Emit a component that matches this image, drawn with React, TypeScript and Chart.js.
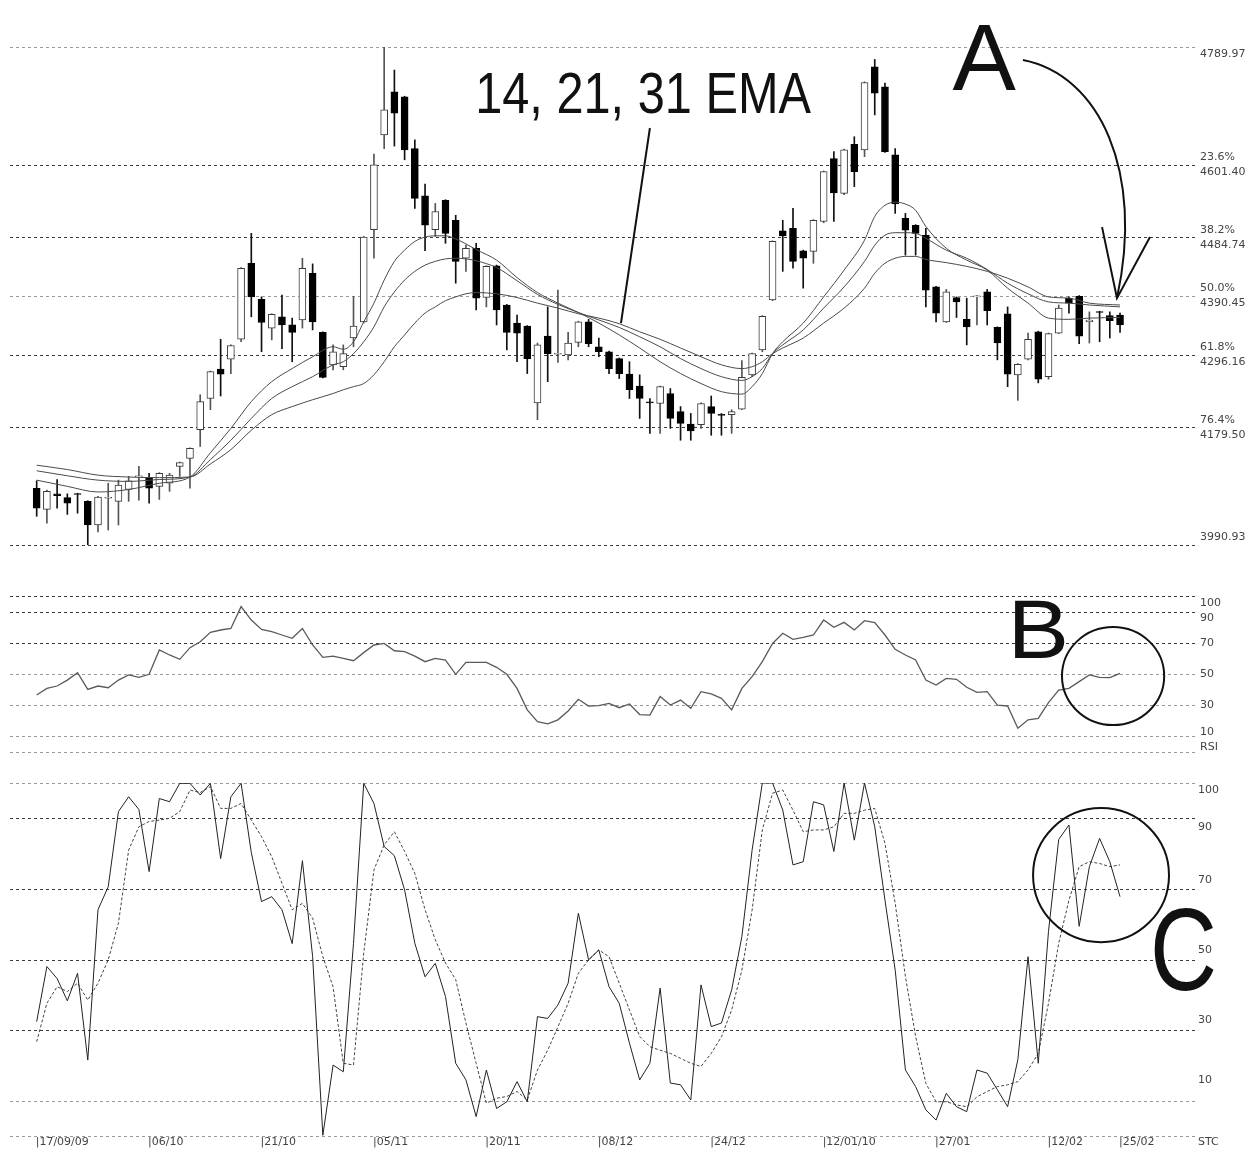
import React, { useEffect, useRef } from "react";
import { Chart, registerables } from "chart.js";

Chart.register(...registerables);

// ---------------- data ----------------
const dateLabels = ["17/09/09", "06/10", "21/10", "05/11", "20/11", "08/12", "24/12", "12/01/10", "27/01", "12/02", "25/02"];
const dateLabelBars = [0, 11, 22, 33, 44, 55, 66, 77, 88, 99, 106];

const opens = [
  4082, 4048, 4073, 4067, 4073, 4061, 4023, 4066, 4061, 4080,
  4100, 4099, 4085, 4090, 4117, 4130, 4176, 4226, 4273, 4289,
  4321, 4443, 4385, 4339, 4357, 4344, 4352, 4427, 4332, 4280,
  4277, 4323, 4349, 4497, 4649, 4718, 4710, 4627, 4551, 4497,
  4544, 4512, 4451, 4467, 4388, 4439, 4376, 4347, 4342, 4219,
  4326, 4297, 4296, 4316, 4349, 4309, 4301, 4290, 4265, 4246,
  4220, 4218, 4234, 4205, 4185, 4184, 4213, 4200, 4200, 4209,
  4264, 4304, 4384, 4495, 4499, 4463, 4462, 4510, 4611, 4555,
  4634, 4625, 4758, 4726, 4617, 4515, 4504, 4488, 4405, 4349,
  4388, 4353, 4389, 4397, 4340, 4362, 4264, 4289, 4333, 4261,
  4331, 4387, 4390, 4349, 4365, 4359, 4360,
];
const highs = [
  4094, 4079, 4096, 4073, 4074, 4062, 4069, 4090, 4095, 4101,
  4117, 4106, 4107, 4106, 4124, 4147, 4232, 4270, 4321, 4312,
  4436, 4491, 4389, 4362, 4392, 4355, 4451, 4442, 4333, 4312,
  4312, 4390, 4486, 4618, 4789.97, 4753, 4711, 4641, 4570, 4539,
  4545, 4520, 4472, 4475, 4439, 4440, 4377, 4360, 4343, 4315,
  4373, 4400, 4332, 4350, 4353, 4323, 4302, 4291, 4285, 4264,
  4226, 4246, 4242, 4213, 4202, 4219, 4230, 4202, 4208, 4287,
  4299, 4359, 4479, 4512, 4531, 4464, 4513, 4591, 4622, 4626,
  4646, 4734, 4770, 4732, 4627, 4523, 4505, 4499, 4406, 4401,
  4389, 4387, 4391, 4401, 4341, 4373, 4282, 4331, 4334, 4331,
  4376, 4389, 4391, 4365, 4366, 4365, 4363,
];
const lows = [
  4037, 4026, 4050, 4040, 4042, 3990.93, 4012, 4015, 4023, 4061,
  4063, 4058, 4064, 4077, 4101, 4082, 4149, 4208, 4230, 4266,
  4317, 4357, 4301, 4320, 4306, 4285, 4339, 4336, 4259, 4272,
  4272, 4309, 4347, 4451, 4627, 4631, 4609, 4531, 4463, 4486,
  4475, 4411, 4430, 4368, 4373, 4344, 4304, 4285, 4266, 4192,
  4253, 4284, 4288, 4309, 4309, 4293, 4266, 4258, 4226, 4194,
  4170, 4170, 4178, 4159, 4159, 4178, 4167, 4167, 4170, 4208,
  4261, 4301, 4383, 4430, 4435, 4403, 4443, 4508, 4510, 4553,
  4566, 4614, 4681, 4621, 4523, 4456, 4456, 4373, 4349, 4348,
  4356, 4312, 4344, 4344, 4288, 4245, 4223, 4288, 4251, 4257,
  4330, 4363, 4314, 4315, 4317, 4323, 4332,
];
const closes = [
  4050, 4077, 4070, 4058, 4072, 4023, 4068, 4067, 4087, 4094,
  4102, 4082, 4106, 4103, 4123, 4146, 4221, 4269, 4265, 4311,
  4435, 4389, 4348, 4361, 4344, 4332, 4435, 4349, 4260, 4301,
  4298, 4342, 4485, 4601, 4689, 4684, 4625, 4547, 4504, 4526,
  4491, 4446, 4467, 4387, 4438, 4368, 4332, 4331, 4290, 4312,
  4298, 4298, 4315, 4349, 4314, 4301, 4274, 4266, 4240, 4226,
  4219, 4245, 4194, 4186, 4174, 4218, 4202, 4199, 4205, 4260,
  4298, 4358, 4478, 4487, 4446, 4451, 4512, 4590, 4556, 4625,
  4590, 4733, 4716, 4622, 4538, 4496, 4491, 4400, 4363, 4397,
  4381, 4341, 4390, 4367, 4315, 4265, 4281, 4321, 4257, 4330,
  4371, 4379, 4326, 4352, 4364, 4351, 4344,
];

const emaBars = [
  0, 3, 6, 9, 12, 15, 17, 19, 21, 23, 25, 27, 29, 30, 31, 32, 33, 34, 35, 36,
  37, 38, 39, 40, 41, 42, 43, 45, 47, 49, 51, 53, 55, 57, 59, 61, 63, 65, 67, 69,
  70, 71, 72, 73, 75, 77, 79, 81, 82, 83, 84, 85, 86, 87, 89, 91, 93, 95, 97, 99,
  101, 103, 106,
];
const ema14 = [
  4095, 4085, 4076, 4080, 4090, 4100, 4139, 4178, 4221, 4253, 4274, 4293, 4309, 4305, 4317, 4349, 4379, 4416, 4446, 4464,
  4478, 4485, 4487, 4487, 4482, 4474, 4465, 4448, 4420, 4396, 4379, 4364, 4347, 4328, 4307, 4285, 4266, 4250, 4237, 4233,
  4245, 4266, 4298, 4317, 4347, 4389, 4432, 4480, 4518, 4536, 4541, 4538, 4528, 4502, 4467, 4448, 4432, 4403, 4379, 4355,
  4353, 4355, 4356,
];
const ema21 = [
  4110, 4102, 4095, 4093, 4096, 4100, 4128, 4159, 4194, 4226, 4245, 4261, 4280, 4285, 4298, 4317, 4341, 4373, 4397, 4416,
  4430, 4440, 4446, 4450, 4451, 4450, 4447, 4436, 4415, 4393, 4377, 4364, 4352, 4340, 4325, 4309, 4290, 4274, 4261, 4255,
  4261, 4274, 4298, 4312, 4336, 4371, 4405, 4446, 4472, 4488, 4492, 4492, 4491, 4483, 4464, 4451, 4433, 4411, 4394, 4381,
  4379, 4376, 4373,
];
const ema31 = [
  4119, 4112, 4103, 4100, 4099, 4100, 4121, 4144, 4175, 4200, 4213, 4224, 4234, 4240, 4245, 4250, 4264, 4285, 4309, 4328,
  4347, 4363, 4373, 4383, 4389, 4394, 4396, 4394, 4388, 4379, 4371, 4362, 4355, 4346, 4333, 4321, 4307, 4293, 4280, 4274,
  4277, 4285, 4298, 4307, 4323, 4347, 4371, 4403, 4427, 4443, 4451, 4454, 4454, 4449, 4444, 4438, 4430, 4419, 4405, 4389,
  4387, 4379, 4376,
];

const rsiValues = [
  36.5, 40.8, 42.3, 46.1, 50.8, 40.1, 42.3, 41.2, 46.1, 49.4,
  47.9, 49.8, 65.4, 62.2, 59.4, 66.9, 70.7, 76.7, 78.2, 79.2,
  93.2, 84.6, 78.6, 77.1, 75.0, 72.9, 79.2, 68.6, 60.7, 61.5,
  60.0, 58.5, 63.7, 68.6, 69.6, 64.9, 64.3, 61.5, 57.9, 60.0,
  58.9, 49.8, 57.5, 57.5, 57.5, 54.3, 49.8, 40.8, 27.0, 19.5,
  18.0, 20.6, 26.3, 33.8, 29.5, 29.7, 31.2, 28.4, 30.8, 24.0,
  23.7, 35.5, 30.1, 33.3, 28.0, 38.7, 37.2, 34.4, 27.0, 40.8,
  48.3, 57.9, 69.6, 76.1, 72.2, 73.5, 75.0, 84.6, 79.9, 83.1,
  78.2, 84.2, 82.9, 75.0, 65.8, 62.2, 59.0, 46.1, 42.9, 47.2,
  46.6, 41.5, 38.2, 38.7, 30.1, 29.5, 15.2, 20.6, 21.6, 31.6,
  39.7, 40.8, 45.1, 49.4, 47.9, 47.7, 50.4,
];

const stcK = [
  32.4, 48.0, 44.6, 38.3, 46.1, 21.5, 64.1, 70.6, 91.9, 96.1,
  92.5, 74.9, 95.6, 94.7, 99.9, 99.9, 96.6, 99.9, 78.6, 96.1,
  99.9, 80.3, 66.4, 67.8, 64.1, 54.5, 78.0, 50.8, 0.2, 20.1,
  18.2, 54.6, 99.9, 94.2, 82.0, 79.4, 69.7, 54.6, 45.1, 48.9,
  39.5, 20.6, 15.9, 5.5, 18.7, 7.8, 9.7, 15.4, 9.7, 33.8,
  33.3, 37.1, 43.3, 63.1, 49.9, 52.7, 42.3, 37.6, 26.3, 15.9,
  20.6, 41.9, 15.0, 14.5, 10.2, 42.8, 31.0, 32.0, 41.4, 56.5,
  81.0, 100, 100, 92.3, 76.8, 77.7, 94.7, 93.8, 80.6, 100,
  83.8, 100, 87.6, 66.8, 47.0, 18.7, 14.0, 7.4, 4.5, 12.1,
  8.3, 6.9, 18.7, 17.8, 13.1, 8.3, 21.6, 50.8, 20.6, 58.0,
  84.0, 88.1, 59.4, 76.3, 84.3, 77.7, 67.8,
];
const stcD = [
  26.7, 37.6, 42.3, 40.9, 43.3, 38.5, 43.3, 49.9, 60.3, 81.0,
  87.6, 89.1, 89.5, 90.0, 91.9, 98.0, 97.3, 99.0, 92.8, 92.8,
  94.2, 89.5, 84.8, 79.1, 71.6, 64.1, 65.9, 61.7, 50.8, 42.3,
  20.6, 20.1, 51.8, 75.4, 82.5, 86.2, 80.6, 74.4, 64.1, 55.6,
  49.0, 44.3, 32.0, 20.6, 9.3, 10.7, 11.2, 12.6, 10.2, 18.7,
  24.3, 30.9, 37.6, 46.1, 49.9, 52.7, 50.8, 43.3, 35.7, 28.2,
  25.3, 24.3, 23.4, 22.0, 20.6, 19.7, 23.4, 28.1, 35.7, 47.0,
  64.0, 86.7, 97.1, 98.0, 92.3, 86.2, 86.7, 86.7, 87.6, 91.4,
  91.4, 92.3, 92.8, 82.9, 65.9, 45.2, 28.2, 14.9, 9.7, 9.7,
  8.8, 8.3, 11.1, 12.6, 14.0, 14.5, 15.4, 18.7, 23.4, 37.6,
  54.6, 66.8, 76.3, 77.7, 77.2, 76.3, 76.8,
];

const priceLevels = [4789.97, 4601.4, 4484.74, 4390.45, 4296.16, 4179.5, 3990.93];
const priceLevelText = ["4789.97", "4601.40", "4484.74", "4390.45", "4296.16", "4179.50", "3990.93"];
const fibText = ["", "23.6%", "38.2%", "50.0%", "61.8%", "76.4%", ""];
const rsiLevels = [100, 90, 70, 50, 30, 10, 0];
const rsiLevelText = ["100", "90", "70", "50", "30", "10", "RSI"];
const stcLevels = [100, 90, 70, 50, 30, 10, 0];
const stcLevelText = ["100", "90", "70", "50", "30", "10", "STC"];

const emaCaption = "14, 21, 31 EMA";
const letterA = "A";
const letterB = "B";
const letterC = "C";

// ---------------- layout / style ----------------
const W = 1258;
const X_MIN = -2.61;
const X_MAX = 113.53;
const LABEL_FONT = '11px "DejaVu Sans", "Liberation Sans", sans-serif';
const BIG_FONT_FAMILY = '"Liberation Sans", Arial, sans-serif';
const DARK = { color: "#3a3a3a", dash: [3, 3] };
const LIGHT = { color: "#9a9a9a", dash: [3, 3] };
const priceGridStyles = [LIGHT, DARK, DARK, LIGHT, DARK, DARK, DARK];
const rsiGridStyles = [DARK, DARK, DARK, LIGHT, LIGHT, LIGHT, LIGHT];
const stcGridStyles = [LIGHT, DARK, DARK, DARK, DARK, LIGHT, LIGHT];
const rsiLabelOffsets = [7, 7, 0, 0, 0, -4, -5];
const stcLabelOffsets = [7, 9, -9, -9, -10, -21, 6];

function baseOptions(padTop: number, padBottom: number, yMin: number, yMax: number): any {
  return {
    responsive: false,
    maintainAspectRatio: false,
    animation: false,
    events: [],
    layout: { padding: { left: 10, right: W - 1197, top: padTop, bottom: padBottom } },
    plugins: { legend: { display: false }, tooltip: { enabled: false } },
    scales: {
      x: { type: "linear", display: false, min: X_MIN, max: X_MAX, offset: false },
      y: { type: "linear", display: false, min: yMin, max: yMax },
    },
  };
}

function drawGrid(chart: any, levels: number[], styles: any[]) {
  const { ctx, chartArea, scales } = chart;
  ctx.save();
  ctx.lineWidth = 1;
  levels.forEach((v, i) => {
    const y = Math.round(scales.y.getPixelForValue(v)) + 0.5;
    ctx.strokeStyle = styles[i].color;
    ctx.setLineDash(styles[i].dash);
    ctx.beginPath();
    ctx.moveTo(chartArea.left, y);
    ctx.lineTo(chartArea.right, y);
    ctx.stroke();
  });
  ctx.restore();
}

function drawBigText(ctx: any, text: string, x: number, y: number, size: number, sx: number) {
  ctx.save();
  ctx.fillStyle = "#111";
  ctx.font = `${size}px ${BIG_FONT_FAMILY}`;
  ctx.textBaseline = "alphabetic";
  ctx.textAlign = "left";
  ctx.translate(x, y);
  ctx.scale(sx, 1);
  ctx.fillText(text, 0, 0);
  ctx.restore();
}

const pricePlugin = {
  id: "pricePanel",
  beforeDatasetsDraw(chart: any) {
    drawGrid(chart, priceLevels, priceGridStyles);
  },
  afterDatasetsDraw(chart: any) {
    const { ctx, chartArea, scales } = chart;
    const px = (b: number) => scales.x.getPixelForValue(b);
    const py = (v: number) => scales.y.getPixelForValue(v);
    const x0 = chartArea.right + 3;
    ctx.save();
    ctx.font = LABEL_FONT;
    ctx.fillStyle = "#444";
    ctx.textBaseline = "middle";
    ctx.textAlign = "left";
    priceLevels.forEach((v, i) => {
      const y = py(v);
      if (fibText[i]) {
        ctx.fillText(fibText[i], x0, y - 7.5);
        ctx.fillText(priceLevelText[i], x0, y + 7.5);
      } else if (i === priceLevels.length - 1) {
        ctx.fillText(priceLevelText[i], x0, y - 8);
      } else {
        ctx.fillText(priceLevelText[i], x0, y + 7.5);
      }
    });
    ctx.restore();

    // caption and pointer
    drawBigText(ctx, emaCaption, px(42.9), py(4684), 58, 0.84);
    ctx.save();
    ctx.strokeStyle = "#111";
    ctx.lineWidth = 2;
    ctx.beginPath();
    ctx.moveTo(px(60.0), py(4660));
    ctx.lineTo(px(57.17), py(4347));
    ctx.stroke();

    // A and arrow
    drawBigText(ctx, letterA, px(89.6), py(4721), 95, 1);
    ctx.beginPath();
    ctx.moveTo(px(96.5), py(4769));
    ctx.bezierCurveTo(px(104.0), py(4745), px(108.4), py(4590), px(105.7), py(4387));
    ctx.stroke();
    ctx.beginPath();
    ctx.moveTo(px(104.24), py(4501));
    ctx.lineTo(px(105.7), py(4387));
    ctx.lineTo(px(108.93), py(4485));
    ctx.stroke();
    ctx.restore();
  },
};

const rsiPlugin = {
  id: "rsiPanel",
  beforeDatasetsDraw(chart: any) {
    drawGrid(chart, rsiLevels, rsiGridStyles);
  },
  afterDatasetsDraw(chart: any) {
    const { ctx, chartArea, scales } = chart;
    const px = (b: number) => scales.x.getPixelForValue(b);
    const py = (v: number) => scales.y.getPixelForValue(v);
    ctx.save();
    ctx.font = LABEL_FONT;
    ctx.fillStyle = "#444";
    ctx.textBaseline = "middle";
    rsiLevels.forEach((v, i) => {
      ctx.fillText(rsiLevelText[i], chartArea.right + 3, py(v) + rsiLabelOffsets[i]);
    });
    ctx.restore();
    drawBigText(ctx, letterB, px(95.0), py(60.3), 84, 1.1);
    ctx.save();
    ctx.strokeStyle = "#111";
    ctx.lineWidth = 2;
    const cx = px(105.32);
    const cy = py(48.7);
    const rx = px(105.32 + 5.0) - cx;
    const ry = cy - py(48.7 + 31.4);
    ctx.beginPath();
    ctx.ellipse(cx, cy, rx, ry, 0, 0, Math.PI * 2);
    ctx.stroke();
    ctx.restore();
  },
};

const stcPlugin = {
  id: "stcPanel",
  beforeDatasetsDraw(chart: any) {
    drawGrid(chart, stcLevels, stcGridStyles);
  },
  afterDatasetsDraw(chart: any) {
    const { ctx, chartArea, scales } = chart;
    const px = (b: number) => scales.x.getPixelForValue(b);
    const py = (v: number) => scales.y.getPixelForValue(v);
    ctx.save();
    ctx.font = LABEL_FONT;
    ctx.fillStyle = "#444";
    ctx.textBaseline = "middle";
    stcLevels.forEach((v, i) => {
      ctx.fillText(stcLevelText[i], chartArea.right + 1, py(v) + stcLabelOffsets[i]);
    });
    dateLabels.forEach((t, i) => {
      ctx.fillText("|" + t, px(dateLabelBars[i]) - 1, chartArea.bottom + 6);
    });
    ctx.restore();
    drawBigText(ctx, letterC, px(108.93), py(41.4), 116, 0.8);
    ctx.save();
    ctx.strokeStyle = "#111";
    ctx.lineWidth = 2;
    const cx = px(104.14);
    const cy = py(73.9);
    const rx = px(104.14 + 6.65) - cx;
    const ry = cy - py(73.9 + 19.0);
    ctx.beginPath();
    ctx.ellipse(cx, cy, rx, ry, 0, 0, Math.PI * 2);
    ctx.stroke();
    ctx.restore();
  },
};

function emaDataset(values: number[]): any {
  return {
    type: "line",
    data: emaBars.map((b, k) => ({ x: b, y: values[k] })),
    borderColor: "#4a4a4a",
    borderWidth: 1,
    pointRadius: 0,
    cubicInterpolationMode: "monotone",
    fill: false,
    order: 0,
  };
}

export default function App() {
  const priceRef = useRef<HTMLCanvasElement | null>(null);
  const rsiRef = useRef<HTMLCanvasElement | null>(null);
  const stcRef = useRef<HTMLCanvasElement | null>(null);

  useEffect(() => {
    const up = closes.map((c, i) => c >= opens[i]);

    const priceChart = new Chart(priceRef.current as any, {
      type: "bar",
      data: {
        datasets: [
          {
            type: "bar",
            data: lows.map((l, i) => ({ x: i, y: [l, highs[i]] })),
            backgroundColor: up.map((u) => (u ? "#555" : "#111")),
            borderWidth: 0,
            barThickness: 1,
            grouped: false,
            order: 3,
          } as any,
          {
            type: "bar",
            data: opens.map((o, i) => ({ x: i, y: [o, closes[i]] })),
            backgroundColor: up.map((u) => (u ? "#ffffff" : "#000000")),
            borderColor: up.map((u) => (u ? "#3a3a3a" : "#000000")),
            borderWidth: 1,
            borderSkipped: false,
            minBarLength: 1,
            barThickness: 7,
            grouped: false,
            order: 2,
          } as any,
          emaDataset(ema14),
          emaDataset(ema21),
          emaDataset(ema31),
        ],
      },
      options: baseOptions(47, 570 - 545, 3990.93, 4789.97),
      plugins: [pricePlugin],
    } as any);

    const rsiChart = new Chart(rsiRef.current as any, {
      type: "line",
      data: {
        datasets: [
          {
            data: rsiValues.map((v, i) => ({ x: i, y: v })),
            borderColor: "#5a5a5a",
            borderWidth: 1.3,
            pointRadius: 0,
            tension: 0,
            fill: false,
          },
        ],
      },
      options: baseOptions(596 - 570, 765 - 752, 0, 100),
      plugins: [rsiPlugin],
    } as any);

    const stcChart = new Chart(stcRef.current as any, {
      type: "line",
      data: {
        datasets: [
          {
            data: stcK.map((v, i) => ({ x: i, y: v })),
            borderColor: "#222",
            borderWidth: 1,
            pointRadius: 0,
            tension: 0,
            fill: false,
          },
          {
            data: stcD.map((v, i) => ({ x: i, y: v })),
            borderColor: "#444",
            borderWidth: 1,
            borderDash: [3, 2],
            pointRadius: 0,
            tension: 0,
            fill: false,
          },
        ],
      },
      options: baseOptions(783 - 765, 1151 - 1136, 0, 100),
      plugins: [stcPlugin],
    } as any);

    return () => {
      priceChart.destroy();
      rsiChart.destroy();
      stcChart.destroy();
    };
  }, []);

  const canvasStyle = (top: number, h: number): React.CSSProperties => ({
    position: "absolute",
    left: 0,
    top,
    width: W,
    height: h,
    display: "block",
  });

  return (
    <div style={{ position: "absolute", left: 0, top: 0, width: W, height: 1151, background: "#fff", overflow: "hidden" }}>
      <canvas ref={priceRef} width={W} height={570} style={canvasStyle(0, 570)} />
      <canvas ref={rsiRef} width={W} height={195} style={canvasStyle(570, 195)} />
      <canvas ref={stcRef} width={W} height={386} style={canvasStyle(765, 386)} />
    </div>
  );
}
